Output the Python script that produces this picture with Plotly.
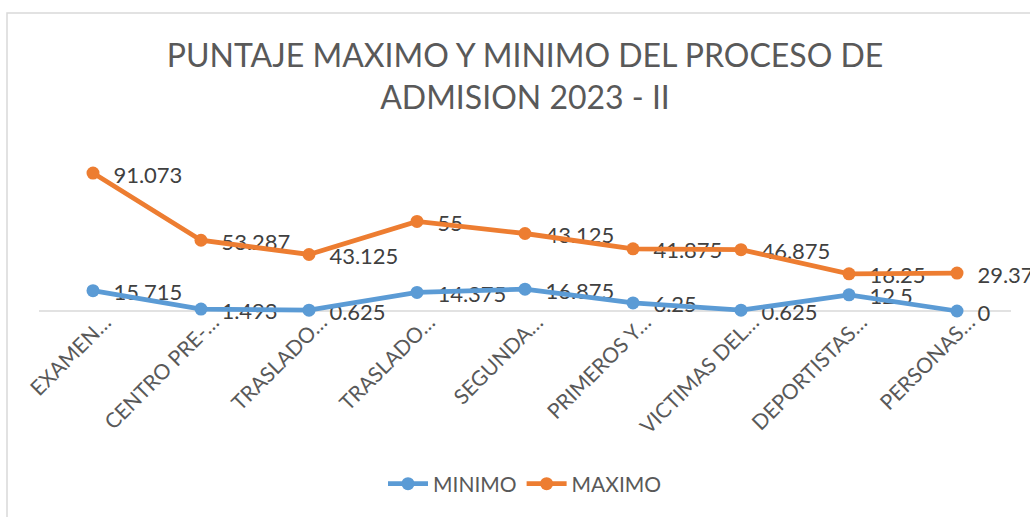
import plotly.graph_objects as go

categories = ["EXAMEN…", "CENTRO PRE-…", "TRASLADO…", "TRASLADO…", "SEGUNDA…",
              "PRIMEROS Y…", "VICTIMAS DEL…", "DEPORTISTAS…", "PERSONAS…"]
minimo = [15.715, 1.493, 0.625, 14.375, 16.875, 6.25, 0.625, 12.5, 0]
maximo = [91.073, 53.287, 43.125, 55, 43.125, 41.875, 46.875, 16.25, 29.375]

W, H = 1030, 517
YMAX = 120
BASE_PX = 311          # pixel row of value 0
TOP_PX = 156           # pixel row of YMAX
PXU = (BASE_PX - TOP_PX) / YMAX
EXTRA_PX = 8           # plot area extends a little below the baseline
LABEL_DROP_PX = 4      # data labels sit slightly below their markers

L, R = 39, 19
T = TOP_PX
B = H - (BASE_PX + EXTRA_PX)
pw, ph = W - L - R, H - T - B
ymin = -EXTRA_PX / PXU
shift = LABEL_DROP_PX / PXU

xs = list(range(len(categories)))

def lbl(vals):
    return ["\u00a0\u00a0" + f"{v:g}" for v in vals]

def add_series(vals, name, color):
    # lines on the overlaying axis so they are drawn above the data labels
    fig.add_trace(go.Scatter(
        x=xs, y=vals, name=name, stackgroup="s", fill="none", yaxis="y2",
        mode="lines+markers",
        line=dict(color=color, width=4.8), marker=dict(size=13, color=color),
        hoverinfo="skip",
    ))

def add_labels(vals, name):
    fig.add_trace(go.Scatter(
        x=xs, y=vals, name=name, stackgroup="t", fill="none",
        mode="markers+text", text=lbl(vals), textposition="middle right",
        marker=dict(size=13, color="rgba(0,0,0,0)"),
        textfont=dict(family="Lato", size=22, color="#404040"), cliponaxis=False,
        showlegend=False, hoverinfo="skip",
    ))

fig = go.Figure()

def px2x(px):
    return (px - L) / pw

def py2y(py):
    return (H - B - py) / ph

# chart border
fig.add_shape(type="rect", xref="paper", yref="paper",
              x0=px2x(7), x1=px2x(1040), y0=py2y(530), y1=py2y(13),
              line=dict(color="#D9D9D9", width=1.5), fillcolor="rgba(0,0,0,0)", layer="below")
# category axis baseline at value 0
fig.add_shape(type="line", xref="paper", yref="y2", x0=0, x1=1, y0=0, y1=0,
              line=dict(color="#D9D9D9", width=1.5), layer="below")

add_labels(minimo, "MINIMO")
add_labels(maximo, "MAXIMO")
add_series(minimo, "MINIMO", "#5B9BD5")
add_series(maximo, "MAXIMO", "#ED7D31")

fig.update_layout(
    width=W, height=H,
    margin=dict(l=L, r=R, t=T, b=B),
    paper_bgcolor="white", plot_bgcolor="white",
    title=dict(text="PUNTAJE MAXIMO Y MINIMO DEL PROCESO DE<br>ADMISION 2023 - II",
               x=525 / W, xanchor="center", y=1 - 67 / H, yanchor="middle",
               font=dict(family="Lato", size=32, color="#595959")),
    xaxis=dict(range=[-0.5, len(categories) - 0.5], tickvals=xs, ticktext=categories,
               tickangle=-45, showgrid=False, zeroline=False,
               showline=False, ticks="",
               ticklabelshift=12, ticklabelstandoff=-6 - EXTRA_PX,
               tickfont=dict(family="Lato", size=21, color="#595959")),
    yaxis=dict(range=[ymin + shift, YMAX + shift], visible=False,
               showgrid=False, zeroline=False),
    yaxis2=dict(range=[ymin, YMAX], overlaying="y", visible=False,
                showgrid=False, zeroline=False),
    legend=dict(orientation="h", x=525 / W, xanchor="center", xref="container",
                y=1 - 484 / H, yref="container", yanchor="middle",
                font=dict(family="Lato", size=21, color="#595959"),
                itemwidth=40, traceorder="normal"),
    showlegend=True,
)

fig.write_html("out.html", config={"displayModeBar": False},
               post_script="document.body.style.margin='0';document.body.style.padding='0';")
